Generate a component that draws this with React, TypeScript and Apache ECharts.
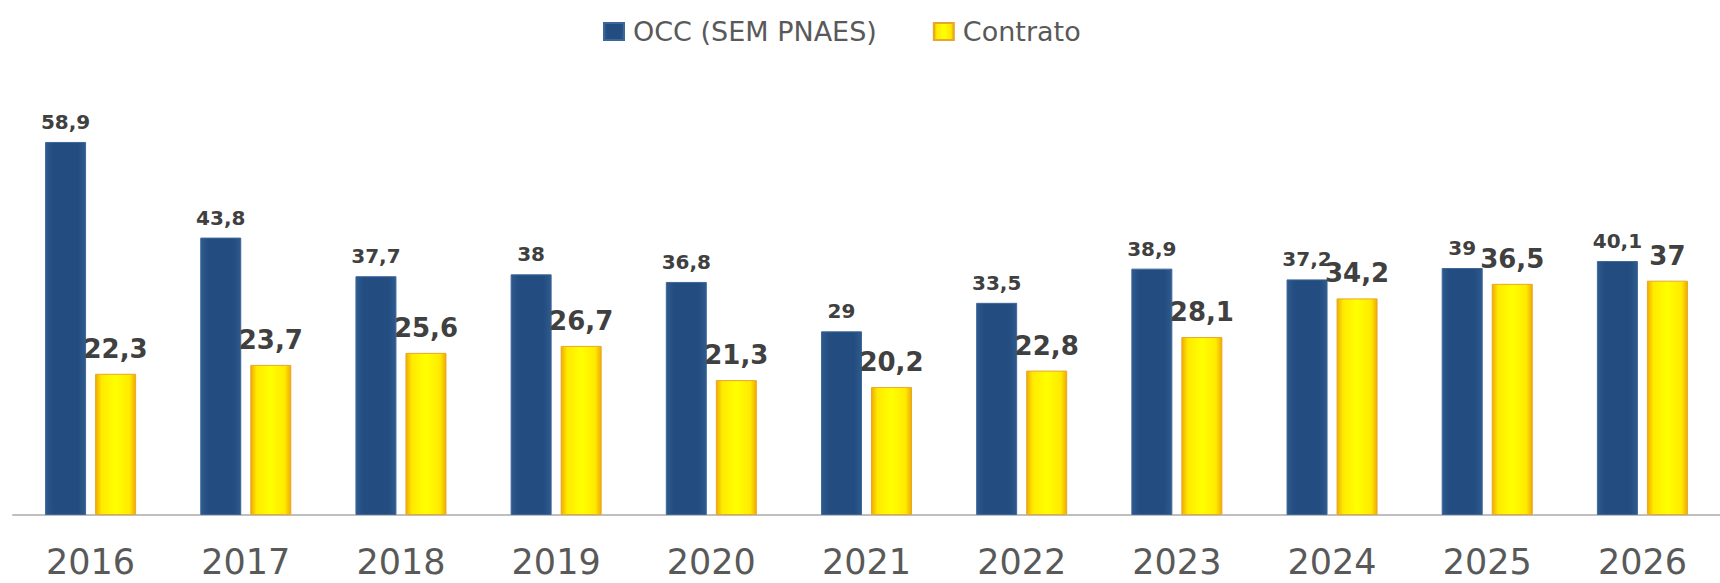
import React, { useEffect, useRef } from "react";
import * as echarts from "echarts";

const categories = ["2016", "2017", "2018", "2019", "2020", "2021", "2022", "2023", "2024", "2025", "2026"];
const occValues = [58.9, 43.8, 37.7, 38, 36.8, 29, 33.5, 38.9, 37.2, 39, 40.1];
const contratoValues = [22.3, 23.7, 25.6, 26.7, 21.3, 20.2, 22.8, 28.1, 34.2, 36.5, 37];
const seriesNames = ["OCC (SEM PNAES)", "Contrato"];

const fmt = (p: any) => String(p.value).replace(".", ",");

export default function App() {
  const ref = useRef<HTMLDivElement>(null);
  useEffect(() => {
    if (!ref.current) return;
    const chart = echarts.init(ref.current, undefined, { renderer: "svg" });
    const blueGrad = new echarts.graphic.LinearGradient(0, 0, 1, 0, [
      { offset: 0, color: "#2e5a8e" },
      { offset: 0.2, color: "#234c80" },
      { offset: 0.8, color: "#234c80" },
      { offset: 1, color: "#2e5a8e" },
    ]);
    const yellowGrad = new echarts.graphic.LinearGradient(0, 0, 1, 0, [
      { offset: 0, color: "#f0ac00" },
      { offset: 0.15, color: "#ffea00" },
      { offset: 0.5, color: "#ffff00" },
      { offset: 0.85, color: "#ffea00" },
      { offset: 1, color: "#f0ac00" },
    ]);
    chart.setOption({
      animation: false,
      backgroundColor: "#ffffff",
      legend: {
        data: seriesNames,
        left: 598,
        top: 13,
        itemWidth: 20,
        itemHeight: 17,
        itemGap: 56,
        icon: "rect",
        textStyle: { fontFamily: "DejaVu Sans", fontSize: 27, color: "#595959", padding: [0, 0, 0, 4] },
      },
      grid: { left: 13, right: -20, top: 135, bottom: 68, containLabel: false },
      xAxis: {
        type: "category",
        data: categories,
        axisLine: { show: true, lineStyle: { color: "#bfbfbf", width: 2 } },
        axisTick: { show: false },
        axisLabel: {
          fontFamily: "DejaVu Sans",
          fontSize: 35,
          color: "#595959",
          margin: 29,
          interval: 0,
        },
      },
      yAxis: {
        type: "value",
        min: 0,
        max: 60,
        show: false,
        splitLine: { show: false },
      },
      series: [
        {
          name: seriesNames[0],
          type: "bar",
          data: occValues,
          barWidth: 41,
          barGap: "22%",
          itemStyle: { color: blueGrad, borderColor: "#3d6799", borderWidth: 1 },
          label: {
            show: true,
            position: "top",
            distance: 10,
            formatter: fmt,
            fontFamily: "DejaVu Sans",
            fontWeight: "bold",
            fontSize: 20,
            color: "#404040",
          },
        },
        {
          name: seriesNames[1],
          type: "bar",
          data: contratoValues,
          barWidth: 41,
          itemStyle: { color: yellowGrad, borderColor: "#e8a72a", borderWidth: 1 },
          label: {
            show: true,
            position: "top",
            distance: 12,
            formatter: fmt,
            fontFamily: "DejaVu Sans",
            fontWeight: "bold",
            fontSize: 26,
            color: "#404040",
          },
        },
      ],
    });
    return () => chart.dispose();
  }, []);
  return (
    <div
      ref={ref}
      style={{ position: "fixed", left: 0, top: 0, width: 1720, height: 583, background: "#fff" }}
    />
  );
}
